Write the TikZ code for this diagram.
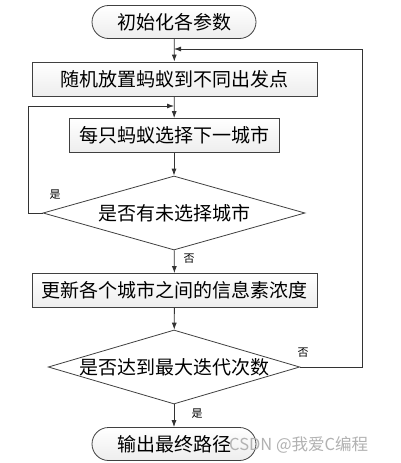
\documentclass[tikz,border=0pt]{standalone}
\usepackage{fontspec}
\setmainfont{Noto Sans CJK SC}
\usetikzlibrary{shapes.geometric,arrows.meta}
\begin{document}
\begin{tikzpicture}[x=1pt,y=-1pt,
  base/.style={draw=black!75,line width=0.8pt,inner sep=0pt,font=\fontsize{19}{20}\selectfont,
    top color=white,bottom color=black!7},
  term/.style={base,rounded corners=16.5pt,minimum width=164pt,minimum height=33pt},
  procbox/.style={base,minimum height=34pt},
  dec/.style={base,diamond,aspect=3.5,minimum height=74pt,top color=white,bottom color=white},
  arr/.style={draw=black!80,line width=0.8pt,-{Latex[length=7pt,width=5pt]}},
  ln/.style={draw=black!80,line width=0.8pt},
  lab/.style={font=\fontsize{11}{12}\selectfont,inner sep=0pt}]
\useasboundingbox (0,0) rectangle (400,463);
\fill[white] (0,0) rectangle (400,463);
\node[term] (start) at (174,22) {初始化各参数};
\node[procbox,minimum width=285pt] (b1) at (174.5,79) {随机放置蚂蚁到不同出发点};
\node[procbox,minimum width=210pt] (b2) at (174,135.5) {每只蚂蚁选择下一城市};
\node[dec,minimum width=262pt] (d1) at (174,213) {是否有未选择城市};
\node[procbox,minimum width=285pt] (b3) at (174.5,290.5) {更新各个城市之间的信息素浓度};
\node[dec,minimum width=238pt] (d2) at (174,367) {是否达到最大迭代次数};
\node[term] (end) at (174,444) {输出最终路径};
\coordinate (j1) at (174,49);
\coordinate (j2) at (174,106);
\coordinate (r1) at (362,367);
\coordinate (r2) at (362,49);
\coordinate (l1) at (28,213);
\coordinate (l2) at (28,106);
\draw[arr] (start) -- (b1);
\draw[arr] (b1) -- (b2);
\draw[arr] (b2) -- (d1);
\draw[arr] (d1) -- (b3);
\draw[arr] (b3) -- (d2);
\draw[arr] (d2) -- (end);
\draw[arr] (d2.east) -- (r1) -- (r2) -- (j1);
\draw[arr] (d1.west) -- (l1) -- (l2) -- (j2);
\node[lab] (y1) at (55,195) {是};
\node[lab] (n1) at (189,259) {否};
\node[lab] (n2) at (303,353) {否};
\node[lab] (y2) at (197,414) {是};
\node[font=\fontsize{16.5}{17}\selectfont,text=black!30,inner sep=0pt,anchor=west] (wm) at (229,445) {CSDN @我爱C编程};
\end{tikzpicture}
\end{document}
